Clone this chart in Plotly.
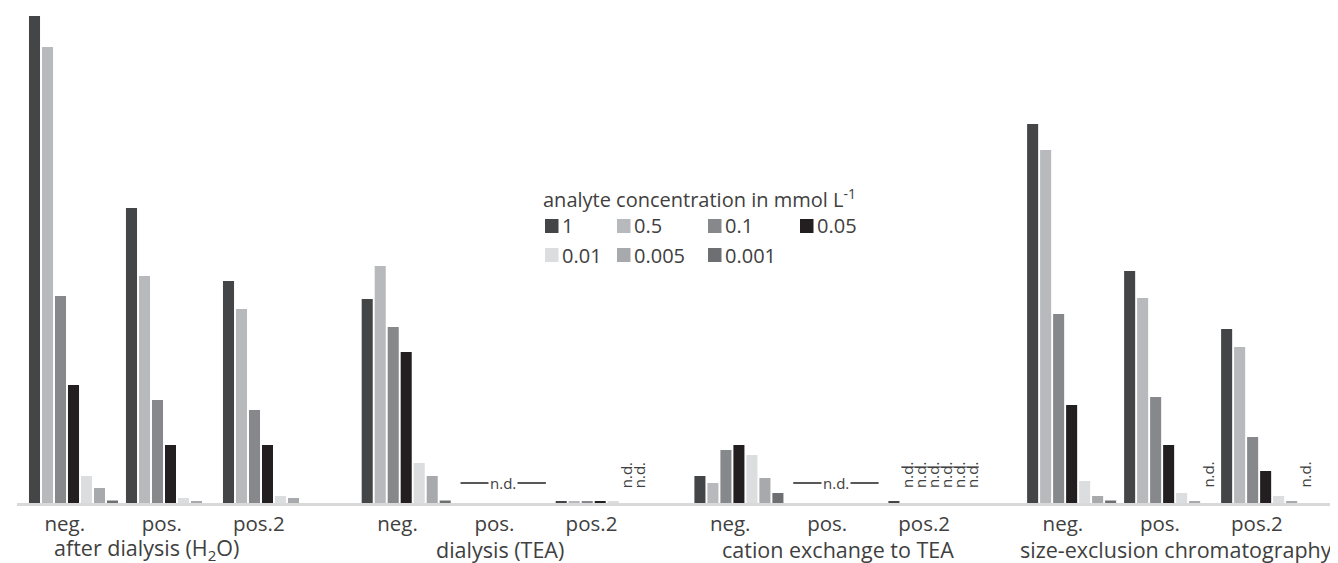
import plotly.graph_objects as go

# ---------------- data ----------------
GROUPS = ["after dialysis (H<sub>2</sub>O)", "dialysis (TEA)", "cation exchange to TEA", "size-exclusion chromatography"]
SUBCATS = ["neg.", "pos.", "pos.2"]
SERIES = ["1", "0.5", "0.1", "0.05", "0.01", "0.005", "0.001"]
COLORS = ["#444547", "#b8b9bc", "#87888b", "#231f20", "#dcdddf", "#a8a9ac", "#6e6f72"]

# values per series, 12 categories (4 groups x neg./pos./pos.2); None = no bar
V_1     = [487, 295, 222, 204, None, 2, 27, None, 2, 379, 232, 174]
V_05    = [456, 227, 194, 237, None, 2, 20, None, None, 353, 205, 156]
V_01    = [207, 103, 93, 176, None, 2, 53, None, None, 189, 106, 66]
V_005   = [118, 58, 58, 151, None, 2, 58, None, None, 98, 58, 32]
V_001   = [27, 5, 7, 40, None, 2, 48, None, None, 22, 10, 7]
V_0005  = [15, 2, 5, 27, None, None, 25, None, None, 7, 2, 2]
V_0001  = [2.5, None, None, 2.5, None, None, 10, None, None, 2.5, None, None]
VALUES = [V_1, V_05, V_01, V_005, V_001, V_0005, V_0001]

# not-detected markers
ND_LINE = [(1, 1), (2, 1)]                       # (group, subcat): whole category n.d.
ND_VERT = [(1, 2, 5), (1, 2, 6),                 # (group, subcat, series)
           (2, 2, 1), (2, 2, 2), (2, 2, 3), (2, 2, 4), (2, 2, 5), (2, 2, 6),
           (3, 1, 6), (3, 2, 6)]
ND_TOPLINE = [(2, 2, 1, 6)]                      # line over series 1..6

# ---------------- layout helpers ----------------
GROUP_STEP = 3.43
BARGAP = 0.062
SLOT = (1 - BARGAP) / len(SERIES)
LABEL_SHIFT = -0.09
GROUP_LABEL_XSHIFT = [-24, -3, 2, 7]

def cat_x(g, s):
    return g * GROUP_STEP + s

xs = [cat_x(g, s) for g in range(len(GROUPS)) for s in range(len(SUBCATS))]
ticktext = [SUBCATS[s] for g in range(len(GROUPS)) for s in range(len(SUBCATS))]

FONT = "Open Sans"
TXT = "#404040"
OFF = 8                      # page body margin
W, H = 1338 - OFF, 563 - OFF
ML, MR, MT, MB = 17 - OFF, 0, 16 - OFF, 60
PW, PH = W - ML - MR, H - MT - MB

def pxx(x):                  # screen pixel -> paper
    return (x - OFF - ML) / PW

def pxy(y):
    return (H - MB - (y - OFF)) / PH

fig = go.Figure()
for name, vals, col in zip(SERIES, VALUES, COLORS):
    fig.add_trace(go.Bar(x=xs, y=vals, name=name, marker=dict(color=col, line=dict(width=0)),
                         showlegend=False))

annotations = []
shapes = []

# category group labels
for g, gname in enumerate(GROUPS):
    annotations.append(dict(x=cat_x(g, 1), y=pxy(549), xref="x", yref="paper", text=gname,
                            xshift=GROUP_LABEL_XSHIFT[g],
                            showarrow=False, xanchor="center", yanchor="middle",
                            font=dict(family=FONT, size=21.5, color=TXT)))

# n.d. across a whole category
for g, s in ND_LINE:
    cx = cat_x(g, s)
    shapes.append(dict(type="line", xref="x", yref="y", x0=cx - 0.44, x1=cx + 0.44, y0=20, y1=20,
                       line=dict(color="#231f20", width=1.5)))
    annotations.append(dict(x=cx, y=20, xref="x", yref="y", text="n.d.", showarrow=False,
                            bgcolor="white", borderpad=1,
                            font=dict(family=FONT, size=15, color=TXT)))

# n.d. for single bars (vertical text)
for g, s, k in ND_VERT:
    cx = cat_x(g, s) + (k - (len(SERIES) - 1) / 2) * SLOT
    annotations.append(dict(x=cx, y=28, xref="x", yref="y", text="n.d.", showarrow=False,
                            textangle=-90, xanchor="center", yanchor="middle",
                            font=dict(family=FONT, size=15, color=TXT)))
for g, s, k0, k1 in ND_TOPLINE:
    c = cat_x(g, s)
    shapes.append(dict(type="line", xref="x", yref="y",
                       x0=c + (k0 - 3) * SLOT - SLOT * 0.45, x1=c + (k1 - 3) * SLOT + SLOT * 0.55,
                       y0=36, y1=36, line=dict(color="#404040", width=1)))

# legend (drawn manually to match the original's compact layout)
annotations.append(dict(x=pxx(541), y=pxy(199), xref="paper", yref="paper",
                        text="analyte concentration in mmol L<sup>-1</sup>", showarrow=False,
                        xanchor="left", yanchor="middle",
                        font=dict(family=FONT, size=20, color=TXT)))
LEG_COL_X = [545, 617, 708, 800]
LEG_ROW_Y = [226, 255]
for i, (name, col) in enumerate(zip(SERIES, COLORS)):
    r, c = divmod(i, 4)
    x0, yc = LEG_COL_X[c], LEG_ROW_Y[r]
    shapes.append(dict(type="rect", xref="paper", yref="paper",
                       x0=pxx(x0), x1=pxx(x0 + 13.5), y0=pxy(yc - 7), y1=pxy(yc + 7),
                       fillcolor=col, line=dict(width=0)))
    annotations.append(dict(x=pxx(x0 + 15), y=pxy(yc), xref="paper", yref="paper", text=name,
                            showarrow=False, xanchor="left", yanchor="middle",
                            font=dict(family=FONT, size=20, color=TXT)))

x_left = (17 - 73.5) / 97.0
fig.update_layout(
    width=W, height=H,
    margin=dict(l=ML, r=MR, t=MT, b=MB, pad=0),
    paper_bgcolor="white", plot_bgcolor="white",
    barmode="group", bargap=BARGAP, bargroupgap=0.15,
    font=dict(family=FONT, color=TXT),
    xaxis=dict(range=[x_left, x_left + PW / 97.0],
               tickvals=[x + LABEL_SHIFT for x in xs], ticktext=ticktext, ticks="",
               showgrid=False, zeroline=False,
               showline=True, linecolor="#d9d9d9", linewidth=3,
               tickfont=dict(family=FONT, size=20.5, color=TXT)),
    yaxis=dict(range=[0, PH], visible=False, showgrid=False, zeroline=False),
    annotations=annotations, shapes=shapes,
)

fig.write_html("out.html")
